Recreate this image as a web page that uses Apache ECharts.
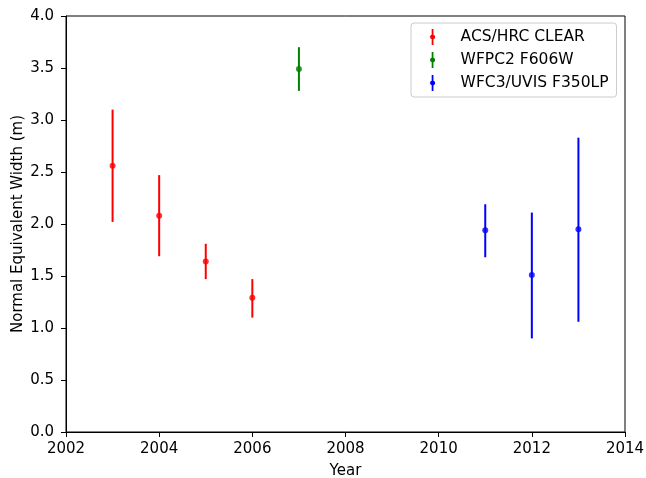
<!DOCTYPE html>
<html>
<head>
<meta charset="utf-8">
<script src="https://cdn.jsdelivr.net/npm/echarts@6/dist/echarts.min.js"></script>
<style>
html,body{margin:0;padding:0;background:#fff;}
#chart{width:646px;height:478px;}
</style>
</head>
<body>
<div id="chart"></div>
<script>
// Data
const acsYears = [2003, 2004, 2005, 2006];
const acsValues = [2.56, 2.08, 1.64, 1.29];
const acsLow = [2.02, 1.69, 1.47, 1.10];
const acsHigh = [3.10, 2.47, 1.81, 1.47];

const wfpcYears = [2007];
const wfpcValues = [3.49];
const wfpcLow = [3.28];
const wfpcHigh = [3.70];

const wfcYears = [2011, 2012, 2013];
const wfcValues = [1.94, 1.51, 1.95];
const wfcLow = [1.68, 0.90, 1.06];
const wfcHigh = [2.19, 2.11, 2.83];

const seriesNames = ['ACS/HRC CLEAR', 'WFPC2 F606W', 'WFC3/UVIS F350LP'];
const seriesColors = ['#ff0000', '#008000', '#0000ff'];

const xTicks = [2002, 2004, 2006, 2008, 2010, 2012, 2014];
const yTicks = [0.0, 0.5, 1.0, 1.5, 2.0, 2.5, 3.0, 3.5, 4.0];

const FONT = 'DejaVu Sans';
const FS = 15;
const groups = [
  [acsYears, acsValues, acsLow, acsHigh],
  [wfpcYears, wfpcValues, wfpcLow, wfpcHigh],
  [wfcYears, wfcValues, wfcLow, wfcHigh]
];

const legendIcon = 'path://M4,0 L6,0 L6,6.5 A2.6,2.6 0 0 1 6,11.5 L6,18 L4,18 L4,11.5 A2.6,2.6 0 0 1 4,6.5 Z';

const series = [];
groups.forEach((g, i) => {
  const [xs, vs, lo, hi] = g;
  series.push({
    type: 'custom',
    name: seriesNames[i],
    data: xs.map((x, k) => [x, lo[k], hi[k]]),
    renderItem: function (params, api) {
      const p1 = api.coord([api.value(0), api.value(1)]);
      const p2 = api.coord([api.value(0), api.value(2)]);
      return {
        type: 'line',
        shape: { x1: p1[0], y1: p1[1], x2: p2[0], y2: p2[1] },
        style: { stroke: seriesColors[i], lineWidth: 2 }
      };
    },
    itemStyle: { color: seriesColors[i] },
    z: 2
  });
  series.push({
    type: 'scatter',
    name: seriesNames[i],
    data: xs.map((x, k) => [x, vs[k]]),
    symbol: 'circle',
    symbolSize: 6,
    itemStyle: { color: seriesColors[i] },
    z: 3
  });
});

const chart = echarts.init(document.getElementById('chart'), null, { renderer: 'canvas' });
chart.setOption({
  animation: false,
  backgroundColor: '#ffffff',
  grid: { left: 66, right: 21, top: 16, bottom: 46, outerBoundsMode: 'none', containLabel: false, show: true, borderColor: '#000', borderWidth: 1, backgroundColor: 'transparent' },
  xAxis: {
    type: 'value', min: xTicks[0], max: xTicks[xTicks.length - 1], interval: 2,
    name: 'Year', nameLocation: 'middle', nameGap: 32, nameMoveOverlap: false,
    nameTextStyle: { fontFamily: FONT, fontSize: FS, color: '#000' },
    axisLine: { show: true, onZero: false, lineStyle: { color: '#000', width: 1 } },
    axisTick: { show: true, length: 5, inside: false, lineStyle: { color: '#000' } },
    axisLabel: { fontFamily: FONT, fontSize: FS, color: '#000', margin: 10, formatter: v => String(v) },
    splitLine: { show: false }
  },
  yAxis: {
    type: 'value', min: yTicks[0], max: yTicks[yTicks.length - 1], interval: 0.5,
    name: 'Normal Equivalent Width (m)', nameLocation: 'middle', nameGap: 40, nameRotate: 90, nameMoveOverlap: false,
    nameTextStyle: { fontFamily: FONT, fontSize: FS, color: '#000' },
    axisLine: { show: true, onZero: false, lineStyle: { color: '#000', width: 1 } },
    axisTick: { show: true, length: 5, inside: false, lineStyle: { color: '#000' } },
    axisLabel: { fontFamily: FONT, fontSize: FS, color: '#000', margin: 12, formatter: v => v.toFixed(1) },
    splitLine: { show: false }
  },
  legend: {
    orient: 'vertical',
    left: 411, top: 23,
    padding: [6, 8, 6, 19],
    itemWidth: 6, itemHeight: 16, itemGap: 7,
    borderColor: '#cccccc', borderWidth: 1, borderRadius: 3,
    backgroundColor: 'rgba(255,255,255,0.8)',
    textStyle: { fontFamily: FONT, fontSize: 15.5, color: '#000', padding: [0, 0, 0, 20] },
    data: seriesNames.map((n, i) => ({ name: n, icon: legendIcon, itemStyle: { color: seriesColors[i] } }))
  },
  series: series
});
</script>
</body>
</html>
